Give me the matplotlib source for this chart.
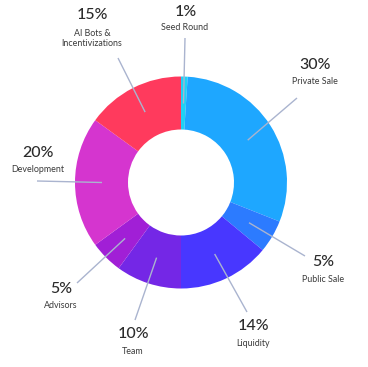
import matplotlib
matplotlib.use("Agg")
import matplotlib.pyplot as plt
import numpy as np

categories = ["Seed Round", "Private Sale", "Public Sale", "Liquidity", "Team",
              "Advisors", "Development", "AI Bots &\nIncentivizations"]
values = [1, 30, 5, 14, 10, 5, 20, 15]
colors = ["#1ed2f5", "#1ea7ff", "#2c7bff", "#4837ff", "#7427e6",
          "#a11fd6", "#d535cf", "#ff3a5d"]

W, H = 368, 367
fig = plt.figure(figsize=(W / 100, H / 100), dpi=100)
ax = fig.add_axes([0, 0, 1, 1])

def py(y):
    return H - y

cx, cy, R = 181, 182.5, 106
ax.pie(values, colors=colors, startangle=90, counterclock=False, radius=R,
       center=(cx, py(cy)), wedgeprops=dict(width=53, edgecolor="none", linewidth=0))

# label layout: (percent position, name position, leader outer end)
layout = [
    ((186, 12), (185, 28), (185, 38)),
    ((315, 65), (315, 82), (297, 98)),
    ((323, 262), (323, 280), (305, 256)),
    ((253, 326), (253, 343), (247, 312)),
    ((133, 334), (133, 352), (135, 320)),
    ((61, 289), (61, 305), (77, 283)),
    ((38, 153), (38, 169), (37, 181)),
    ((92, 15), (92, 38.5), (118, 58)),
]

total = sum(values)
cum = np.cumsum([0] + values)
r_mid = 79
for i, (cat, v) in enumerate(zip(categories, values)):
    mid = (cum[i] + v / 2) / total * 360.0
    a = np.deg2rad(mid)
    x0 = cx + r_mid * np.sin(a)
    y0 = cy - r_mid * np.cos(a)
    (px, pyy), (nx, ny), (ex, ey) = layout[i]
    ax.plot([x0, ex], [py(y0), py(ey)], color="#aab4cf", lw=1.0, solid_capstyle="butt")
    ax.text(px, py(pyy), f"{v}%", ha="center", va="center", fontsize=11.5,
            color="#2b2b2b", family="Lato", weight="medium")
    ax.text(nx, py(ny), cat, ha="center", va="center", fontsize=6.4,
            color="#3a3a3a", family="Lato", linespacing=1.2)

ax.set_xlim(0, W)
ax.set_ylim(0, H)
ax.set_aspect("equal")
ax.axis("off")
fig.savefig("out.png", dpi=100)
